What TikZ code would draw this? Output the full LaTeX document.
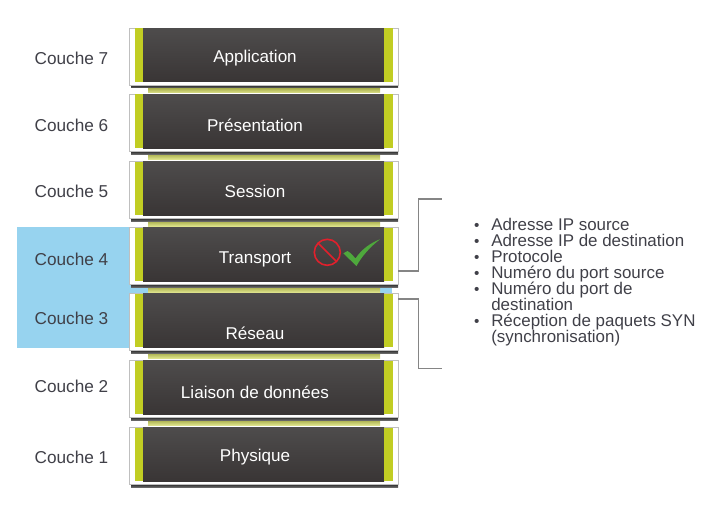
\documentclass[tikz,border=0pt]{standalone}
\usepackage{fontspec}
\setmainfont{Liberation Sans}
\usetikzlibrary{calc}
\definecolor{layergreen}{HTML}{C1CD23}
\definecolor{layerblue}{HTML}{97D3EF}
\definecolor{bandtop}{HTML}{A8AE4C}
\definecolor{bandbottom}{HTML}{DDE28A}
\definecolor{darktop}{HTML}{4E4C4C}
\definecolor{darkbottom}{HTML}{393535}
\definecolor{textgray}{HTML}{404048}
\definecolor{linkgray}{HTML}{858585}
\definecolor{stopred}{HTML}{E1202C}
\definecolor{tickgreen}{HTML}{4EA83C}
\tikzset{
    layerbox/.style={fill=white,draw=black!25,line width=0.4pt,minimum width=201.75pt,minimum height=42.75pt,inner sep=0pt},
    layerlabel/.style={text=white,font=\fontsize{12.8}{15}\selectfont,inner sep=0pt},
    couchelabel/.style={text=textgray,font=\fontsize{12.9}{15}\selectfont,inner sep=0pt},
    linkline/.style={draw=linkgray,line width=1.3pt}
}
\def\layerbox#1#2#3#4{
    \fill[top color=black!95,bottom color=black!60] (131,#2+56) rectangle (398,#2+60);
    \node[layerbox] (#1) at (263.5,#2+28.5) {};
    \fill[top color=darktop,bottom color=darkbottom] (143,#2+0.5) rectangle (384,#2+54);
    \fill[layergreen] (135,#2+0.5) rectangle (143,#2+54);
    \fill[layergreen] (384,#2+0.5) rectangle (393,#2+54);
    \node[layerlabel] (#1label) at (255,#3+0.5) {#4};
}
\def\layerband#1{\fill[top color=bandtop,bottom color=bandbottom] (148,#1+60) rectangle (380,#1+65);}

\begin{document}
\begin{tikzpicture}[x=0.75pt,y=-0.75pt]
        \useasboundingbox (0,0) rectangle (728,528);

        %%% HIGHLIGHT %%%
        \fill[layerblue] (17,227) rectangle (392,348);

        %%% BANDS %%%
        \layerband{28}
        \layerband{94}
        \layerband{161}
        \layerband{227}
        \layerband{293}
        \layerband{360}

        %%% LAYERS %%%
        \layerbox{application}{28}{58}{Application}
        \layerbox{presentation}{94}{125}{Présentation}
        \layerbox{session}{161}{191}{Session}
        \layerbox{transport}{227}{259}{Transport}
        \layerbox{reseau}{293}{333}{Réseau}
        \layerbox{liaison}{360}{392}{Liaison de données}
        \layerbox{physique}{427}{457}{Physique}

        %%% LAYER NAMES %%%
        \node[couchelabel] (c7) at (71.5,58.5) {Couche 7};
        \node[couchelabel] (c6) at (71.5,125.5) {Couche 6};
        \node[couchelabel] (c5) at (71.5,191.5) {Couche 5};
        \node[couchelabel] (c4) at (71.5,259.5) {Couche 4};
        \node[couchelabel] (c3) at (71.5,318.5) {Couche 3};
        \node[couchelabel] (c2) at (71.5,386.5) {Couche 2};
        \node[couchelabel] (c1) at (71.5,457.5) {Couche 1};

        %%% ICONS %%%
        \draw[stopred,line width=1.2pt] (327.3,252.3) circle (13);
        \draw[stopred,line width=1.2pt] (318,243) -- (336.5,261.5);
        \fill[tickgreen] (343.3,253.3) -- (347.5,251) .. controls (351,253) and (353,255.5) .. (355.5,258.5)
            .. controls (361,250) and (370,243) .. (380,239.3) .. controls (370,247) and (362,256) .. (356.5,266) -- cycle;

        %%% FIELDS %%%
        \coordinate (top) at (442,199);
        \coordinate (bottom) at (442,368.5);
        \draw[linkline] ($(transport.east)+(0,15.5)$) -| (418.5,235) |- (top);
        \draw[linkline] ($(reseau.east)+(0,-22.5)$) -| (418.5,335) |- (bottom);

        \node[anchor=north west,inner sep=0pt,text=textgray] (fields) at (476,217.5) {%
            \begin{minipage}{190pt}
            \fontsize{12.7}{12}\selectfont
            \setlength{\leftmargini}{11.25pt}\setlength{\labelsep}{8.8pt}
            \renewcommand{\labelitemi}{\scalebox{0.9}{\textbullet}}
            \begin{itemize}
            \setlength{\itemsep}{0pt}\setlength{\parsep}{0pt}\setlength{\topsep}{0pt}
            \setlength{\parskip}{0pt}\setlength{\itemindent}{0pt}
            \item Adresse IP source
            \item Adresse IP de destination
            \item Protocole
            \item Numéro du port source
            \item Numéro du port de\\destination
            \item Réception de paquets SYN\\(synchronisation)
            \end{itemize}
            \end{minipage}};
    \end{tikzpicture}
\end{document}
